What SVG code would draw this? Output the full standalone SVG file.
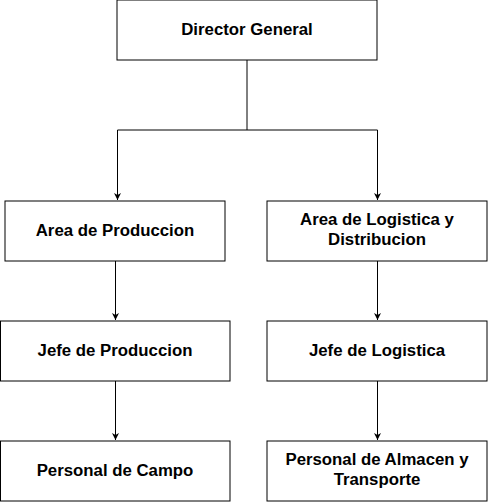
<svg xmlns="http://www.w3.org/2000/svg" width="488" height="502" viewBox="0 0 488 502">
<style>
.box{fill:#fff;stroke:#000;stroke-width:1}
.lbl{font-family:"Liberation Sans",Arial,sans-serif;font-weight:bold;font-size:16.8px;fill:#000;text-anchor:middle}
.edge{fill:none;stroke:#000;stroke-width:1}
</style>
<defs>
<marker id="arr" viewBox="0 0 10 10" refX="10" refY="5" markerWidth="7" markerHeight="7" markerUnits="userSpaceOnUse" orient="auto">
<path d="M0,0 L10,5 L0,10 L3,5 Z" fill="#000"/>
</marker>
</defs>
<g id="connectors">
<path class="edge" d="M247,60 V130 H117.5 V200" marker-end="url(#arr)"/>
<path class="edge" d="M247,130 H377.5 V200" marker-end="url(#arr)"/>
<path class="edge" d="M115.5,261 V320" marker-end="url(#arr)"/>
<path class="edge" d="M377.5,261 V320" marker-end="url(#arr)"/>
<path class="edge" d="M115.5,381 V440" marker-end="url(#arr)"/>
<path class="edge" d="M377.5,381 V440" marker-end="url(#arr)"/>
</g>
<g id="director">
<rect class="box" x="117" y="0" width="260" height="60"/>
<text class="lbl" x="247" y="35">Director General</text>
</g>
<g id="area-produccion">
<rect class="box" x="5" y="201" width="220" height="60"/>
<text class="lbl" x="115" y="236">Area de Produccion</text>
</g>
<g id="area-logistica">
<rect class="box" x="267" y="201" width="220" height="60"/>
<text class="lbl" x="377" y="225">Area de Logistica y</text>
<text class="lbl" x="377" y="245">Distribucion</text>
</g>
<g id="jefe-produccion">
<rect class="box" x="0.5" y="321" width="229.5" height="60"/>
<text class="lbl" x="115" y="356">Jefe de Produccion</text>
</g>
<g id="jefe-logistica">
<rect class="box" x="267" y="321" width="220" height="60"/>
<text class="lbl" x="377" y="356">Jefe de Logistica</text>
</g>
<g id="personal-campo">
<rect class="box" x="0.5" y="441" width="229.5" height="60"/>
<text class="lbl" x="115" y="476">Personal de Campo</text>
</g>
<g id="personal-almacen">
<rect class="box" x="267" y="441" width="220" height="60"/>
<text class="lbl" x="377" y="465">Personal de Almacen y</text>
<text class="lbl" x="377" y="485">Transporte</text>
</g>
</svg>
